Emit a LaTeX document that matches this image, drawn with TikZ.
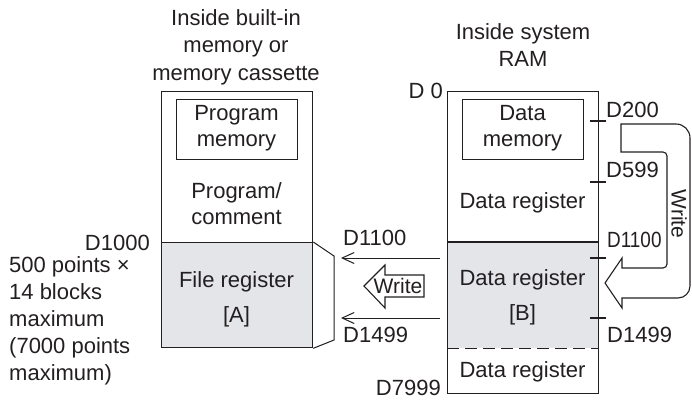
\documentclass[tikz,border=0pt]{standalone}
\usepackage{fontspec}
\setmainfont{Liberation Sans}
\usetikzlibrary{positioning,arrows.meta}
\definecolor{InkGray}{RGB}{35,31,32}
\definecolor{RegGray}{RGB}{227,229,233}
\tikzset{
  region/.style={draw=InkGray,line width=1.3pt,minimum width=151pt,inner sep=0pt,anchor=north west},
  subbox/.style={draw=InkGray,line width=1.3pt,minimum width=121pt,minimum height=60pt,inner sep=0pt,anchor=north west},
  txt/.style={align=center,inner sep=0pt},
  addr/.style={inner sep=0pt},
  tick/.style={draw=InkGray,line width=1.2pt},
  link/.style={draw=InkGray,line width=1pt},
  fat/.style={draw=InkGray,line width=1.1pt,fill=white,line join=miter},
}

\begin{document}
\begin{tikzpicture}[x=1pt,y=-1pt,font=\fontsize{22}{26}\selectfont,text=InkGray]
\useasboundingbox (0,0) rectangle (692,399);
% headings
\node[txt,font=\fontsize{22}{27.5}\selectfont] (headL) at (236,47) {Inside built-in\\memory or\\memory cassette};
\node[txt,font=\fontsize{22}{27}\selectfont] (headR) at (523,45) {Inside system\\RAM};
% built-in memory side
\node[region,minimum height=151pt] (progarea) at (161,91) {};
\node[region,fill=RegGray,minimum height=105pt] (fileA) at (161,242) {};
\node[subbox] (progmem) at (176,99) {};
\node[txt] (progmemtxt) at (236.5,128) {Program\\memory};
\node[txt] (progtxt) at (236.5,204) {Program/\\comment};
\node[txt,font=\fontsize{22}{35}\selectfont] (fileAtxt) at (236.5,299) {File register\\{[A]}};
\node[addr,anchor=base east] (d1000) at (150,250) {D1000};
\node[addr,align=left,anchor=north west,font=\fontsize{22}{27}\selectfont] (note) at (9,256) {500 points ×\\14 blocks\\maximum\\(7000 points\\maximum)};
% system RAM side
\node[region,fill=RegGray,draw=none,minimum height=105pt] (regB) at (447,242) {};
\node[region,minimum height=302pt] (ram) at (447,91) {};
\draw[tick] (regB.north west) -- (regB.north east);
\draw[tick,dash pattern=on 12pt off 6pt] (regB.south west) -- (regB.south east);
\node[subbox] (datamem) at (462,99) {};
\node[txt] (datamemtxt) at (522.5,128) {Data\\memory};
\node[txt] (regtxt) at (522.5,203) {Data register};
\node[txt,font=\fontsize{22}{35}\selectfont] (regBtxt) at (522.5,297) {Data register\\{[B]}};
\node[txt] (lowtxt) at (522.5,372) {Data register};
\node[addr,anchor=base east] (d0) at (443,98) {D 0};
\node[addr,anchor=base east] (d7999) at (441,395) {D7999};
% write into data register
\draw[fat] (621,124) -- (676,124) arc[start angle=-90,end angle=0,radius=14]
  -- (690,286) arc[start angle=0,end angle=90,radius=12] -- (622,298)
  -- (622,308) -- (605,283) -- (622,258) -- (622,268) -- (663,268)
  arc[start angle=90,end angle=0,radius=4] -- (667,156)
  arc[start angle=0,end angle=-90,radius=4] -- (621,152) -- cycle;
\node[addr,rotate=-90,font=\fontsize{21}{25}\selectfont] (wrright) at (679,214) {Write};
% address ticks
\foreach \ty in {121,182,258,318}
  \draw[tick] (590,\ty) -- (606,\ty);
\node[addr,anchor=base west] (d200) at (606,117) {D200};
\node[addr,anchor=base west] (d599) at (606,177) {D599};
\node[addr,anchor=base west,xscale=0.86] (d1100r) at (607,247) {D1100};
\node[addr,anchor=base west] (d1499r) at (607,342) {D1499};
% copy to file register
\coordinate (srcA) at (440,258);
\coordinate (dstA) at (341,258);
\coordinate (srcB) at (440,318);
\coordinate (dstB) at (341,318);
\draw[link,-{Straight Barb[length=12pt,width=11pt]}] (srcA) -- (dstA);
\draw[link,-{Straight Barb[length=12pt,width=11pt]}] (srcB) -- (dstB);
\node[addr,anchor=base west] (d1100l) at (343,245) {D1100};
\node[addr,anchor=base west] (d1499l) at (343,342) {D1499};
\draw[link] (fileA.north east) -- (334,256) -- (334,340) -- (fileA.south east);
\draw[fat] (424,275) -- (385,275) -- (385,265) -- (364,286) -- (385,308) -- (385,297) -- (424,297) -- cycle;
\node[addr,font=\fontsize{21}{25}\selectfont] (wrleft) at (398,286) {Write};
\end{tikzpicture}
\end{document}
